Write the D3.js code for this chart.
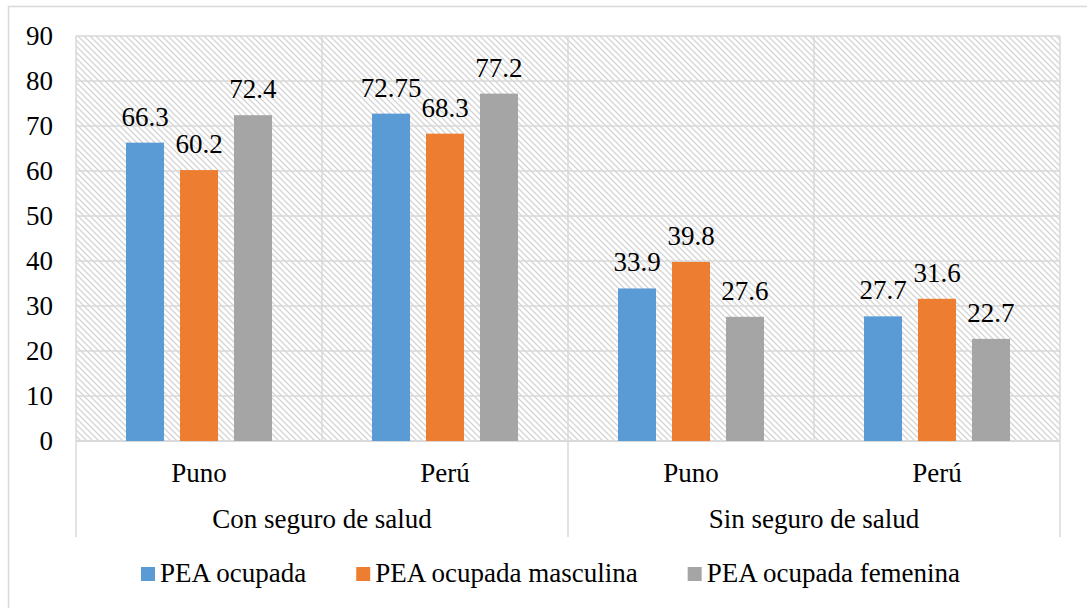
<!DOCTYPE html>
<html>
<head>
<meta charset="utf-8">
<script src="https://cdn.jsdelivr.net/npm/d3@7"></script>
<style>
  html, body { margin: 0; padding: 0; background: #fff; }
  svg { display: block; }
  svg text { font-family: "Liberation Serif", "DejaVu Serif", serif; }
</style>
</head>
<body>
<svg id="chart" width="1087" height="608"></svg>
<script>
/* PEA ocupada con / sin seguro de salud, Puno vs Perú */
(function () {
  'use strict';

  var groups = ['Con seguro de salud', 'Sin seguro de salud'];
  var places = ['Puno', 'Perú'];
  var seriesNames = ['PEA ocupada', 'PEA ocupada masculina', 'PEA ocupada femenina'];
  var seriesColors = ['#5B9BD5', '#ED7D31', '#A5A5A5'];
  var pea = [66.3, 72.75, 33.9, 27.7];
  var peaMasc = [60.2, 68.3, 39.8, 31.6];
  var peaFem = [72.4, 77.2, 27.6, 22.7];
  var yTicks = [0, 10, 20, 30, 40, 50, 60, 70, 80, 90];

  var svg = d3.select('#chart');
  var left = 76, right = 1060, top = 36, base = 441;
  var gridColor = '#d9d9d9';
  var font = 'Liberation Serif', fs = 27;

  // one entry per bottom-level category
  var cats = [];
  groups.forEach(function (g, gi) {
    places.forEach(function (p, pi) {
      cats.push({ id: gi + '-' + pi, group: g, place: p, idx: gi * places.length + pi });
    });
  });

  var x0 = d3.scaleBand().domain(cats.map(function (c) { return c.id; }))
    .range([left, right]).padding(0);
  var x1 = d3.scaleBand().domain(d3.range(seriesNames.length))
    .range([50, x0.bandwidth() - 50]).paddingInner(0.296).paddingOuter(0);
  var y = d3.scaleLinear().domain([0, 90]).range([base, top]);

  // outer chart border
  svg.append('rect').attr('x', 8.5).attr('y', 6.5).attr('width', 1100).attr('height', 620)
    .attr('fill', 'none').attr('stroke', gridColor).attr('stroke-width', 1.5);

  // hatched plot background
  var pat = svg.append('defs').append('pattern')
    .attr('id', 'hatch').attr('patternUnits', 'userSpaceOnUse')
    .attr('width', 6).attr('height', 6);
  pat.append('path').attr('d', 'M-1,-1 L7,7 M-1,5 L1,7 M5,-1 L7,1')
    .attr('stroke', '#d4d4d4').attr('stroke-width', 1.3);
  svg.append('rect').attr('x', left).attr('y', top)
    .attr('width', right - left).attr('height', base - top).attr('fill', 'url(#hatch)');

  // horizontal gridlines
  svg.append('g').selectAll('line').data(yTicks.slice(1)).enter().append('line')
    .attr('x1', left).attr('x2', right)
    .attr('y1', function (d) { return y(d); }).attr('y2', function (d) { return y(d); })
    .attr('stroke', gridColor).attr('stroke-width', 1.5);

  // vertical lines between categories (long ones between groups)
  var edges = cats.map(function (c) { return x0(c.id); }).concat([right]);
  svg.append('g').selectAll('line').data(edges).enter().append('line')
    .attr('x1', function (d) { return d; }).attr('x2', function (d) { return d; })
    .attr('y1', top)
    .attr('y2', function (d, i) { return i % places.length === 0 ? 537 : base; })
    .attr('stroke', gridColor).attr('stroke-width', 1.5);

  // x axis line
  svg.append('line').attr('x1', left).attr('x2', right).attr('y1', base).attr('y2', base)
    .attr('stroke', gridColor).attr('stroke-width', 2);

  // y tick labels
  svg.append('g').selectAll('text').data(yTicks).enter().append('text')
    .attr('x', 53).attr('y', function (d) { return y(d) + 9; })
    .attr('text-anchor', 'end').attr('font-family', font).attr('font-size', fs).attr('fill', '#000')
    .text(function (d) { return d; });

  // bars + labels
  var allSeries = [pea, peaMasc, peaFem];
  var bars = [];
  cats.forEach(function (c) {
    allSeries.forEach(function (s, si) {
      bars.push({ cat: c.id, s: si, v: s[c.idx] });
    });
  });

  var barG = svg.append('g');
  barG.selectAll('rect').data(bars).enter().append('rect')
    .attr('x', function (d) { return x0(d.cat) + x1(d.s); })
    .attr('width', x1.bandwidth())
    .attr('y', function (d) { return y(d.v); })
    .attr('height', function (d) { return base - y(d.v); })
    .attr('fill', function (d) { return seriesColors[d.s]; });

  barG.selectAll('text').data(bars).enter().append('text')
    .attr('x', function (d) { return x0(d.cat) + x1(d.s) + x1.bandwidth() / 2; })
    .attr('y', function (d) { return y(d.v) - 17; })
    .attr('text-anchor', 'middle').attr('font-family', font).attr('font-size', fs).attr('fill', '#000')
    .text(function (d) { return d.v; });

  // category labels
  svg.append('g').selectAll('text').data(cats).enter().append('text')
    .attr('x', function (d) { return x0(d.id) + x0.bandwidth() / 2; })
    .attr('y', 482)
    .attr('text-anchor', 'middle').attr('font-family', font).attr('font-size', fs).attr('fill', '#000')
    .text(function (d) { return d.place; });

  svg.append('g').selectAll('text').data(groups).enter().append('text')
    .attr('x', function (d, i) {
      var a = x0(cats[i * places.length].id);
      return a + x0.bandwidth() * places.length / 2;
    })
    .attr('y', 528)
    .attr('text-anchor', 'middle').attr('font-family', font).attr('font-size', fs).attr('fill', '#000')
    .text(function (d) { return d; });

  // legend
  var legG = svg.append('g');
  var lx = 141;
  seriesNames.forEach(function (name, i) {
    legG.append('rect').attr('x', lx).attr('y', 567).attr('width', 14).attr('height', 14)
      .attr('fill', seriesColors[i]);
    var t = legG.append('text').attr('x', lx + 19).attr('y', 582)
      .attr('font-family', font).attr('font-size', fs).attr('fill', '#000').text(name);
    lx += 19 + t.node().getComputedTextLength() + 50;
  });
})();
</script>
</body>
</html>
